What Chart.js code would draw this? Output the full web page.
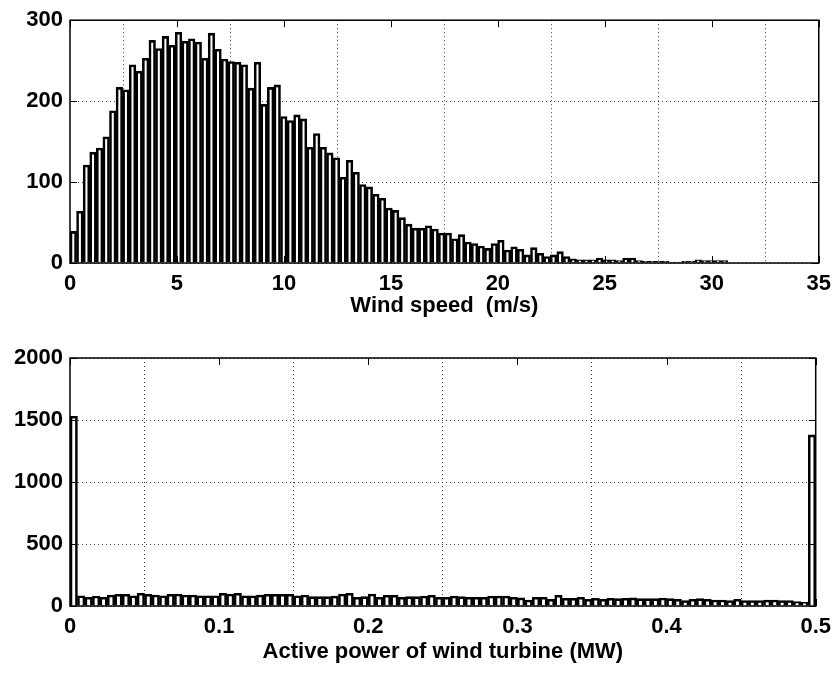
<!DOCTYPE html>
<html>
<head>
<meta charset="utf-8">
<script src="https://cdn.jsdelivr.net/npm/chart.js@4.4.0/dist/chart.umd.min.js"></script>
<style>
  html, body { margin: 0; padding: 0; background: #fff; }
  #wrap { position: relative; width: 839px; height: 675px; }
  .panel { position: absolute; left: 0; width: 839px; }
  #topPanel { top: 0; height: 330px; }
  #bottomPanel { top: 330px; height: 345px; }
</style>
</head>
<body>
<div id="wrap">
  <div class="panel" id="topPanel"><canvas id="windChart"></canvas></div>
  <div class="panel" id="bottomPanel"><canvas id="powerChart"></canvas></div>
</div>
<script>
// Wind speed histogram: 100 bins between 0 and 30.75 m/s
const windBinWidth = 0.3075;
const windCounts = [
    39, 64, 121, 137, 142, 156, 188, 217, 214, 245, 237, 253, 275, 265, 280, 269, 285, 274, 277, 273,
    253, 284, 264, 252, 249, 248, 245, 216, 248, 196, 217, 220, 181, 176, 183, 178, 143, 160, 143, 136,
    130, 106, 127, 112, 97, 94, 85, 80, 68, 65, 56, 48, 43, 43, 46, 42, 37, 37, 30, 35,
    26, 24, 21, 18, 24, 28, 16, 20, 17, 10, 19, 12, 8, 10, 14, 8, 5, 4, 4, 4,
    6, 4, 4, 3, 6, 6, 3, 2, 2, 2, 2, 1, 1, 2, 2, 4, 3, 3, 3, 3
];
const windTicks = [0, 5, 10, 15, 20, 25, 30, 35];
const windCountTicks = [0, 100, 200, 300];

// Active power histogram: 100 bins between 0 and 0.5 MW
const powerBinWidth = 0.005;
const powerCounts = [
    1530, 83, 70, 81, 70, 89, 94, 94, 83, 102, 94, 89, 83, 94, 97, 89, 89, 83, 83, 83,
    102, 97, 102, 83, 83, 89, 94, 94, 94, 94, 83, 89, 75, 75, 75, 81, 97, 102, 70, 75,
    97, 70, 86, 86, 70, 75, 75, 81, 86, 70, 70, 81, 75, 70, 70, 70, 81, 81, 81, 70,
    65, 48, 70, 70, 54, 86, 62, 62, 70, 54, 62, 54, 62, 59, 62, 65, 59, 59, 59, 64,
    59, 54, 43, 54, 59, 54, 48, 48, 43, 54, 43, 43, 43, 48, 48, 43, 43, 35, 30, 1380
];
const powerTicks = [0, 0.1, 0.2, 0.3, 0.4, 0.5];
const powerCountTicks = [0, 500, 1000, 1500, 2000];

const FONT = { family: '"Liberation Sans", Arial, Helvetica, sans-serif', size: 22, weight: 'bold' };

// box round the plot plus inward tick marks on all four sides
const boxPlugin = {
    id: 'boxPlugin',
    afterDatasetsDraw(chart) {
        const { ctx, chartArea: a, scales: { x, y } } = chart;
        ctx.save();
        ctx.strokeStyle = '#000';
        ctx.lineWidth = 1;
        ctx.beginPath();
        x.ticks.forEach(t => {
            const px = Math.round(x.getPixelForValue(t.value)) + 0.5;
            ctx.moveTo(px, a.bottom); ctx.lineTo(px, a.bottom - 7);
            ctx.moveTo(px, a.top); ctx.lineTo(px, a.top + 7);
        });
        y.ticks.forEach(t => {
            const py = Math.round(y.getPixelForValue(t.value)) + 0.5;
            ctx.moveTo(a.left, py); ctx.lineTo(a.left + 7, py);
            ctx.moveTo(a.right, py); ctx.lineTo(a.right - 7, py);
        });
        ctx.stroke();
        ctx.lineWidth = 1.5;
        ctx.strokeRect(a.left, a.top, a.right - a.left, a.bottom - a.top);
        ctx.restore();
    }
};

function histChart(id, counts, binWidth, xTicks, yTicks, xMax, yMax, title, padding, xFmt) {
    const points = counts.map((c, i) => ({ x: (i + 0.5) * binWidth, y: c }));
    return new Chart(document.getElementById(id).getContext('2d'), {
        type: 'bar',
        data: {
            datasets: [{
                data: points,
                backgroundColor: '#fff',
                borderColor: '#000',
                borderWidth: 2.6,
                barPercentage: 1,
                categoryPercentage: 1
            }]
        },
        options: {
            responsive: true,
            maintainAspectRatio: false,
            animation: false,
            layout: { padding: padding },
            plugins: { legend: { display: false }, tooltip: { enabled: false } },
            scales: {
                x: {
                    type: 'linear',
                    min: 0,
                    max: xMax,
                    offset: false,
                    afterBuildTicks: s => { s.ticks = xTicks.map(v => ({ value: v })); },
                    afterFit: s => { s.height = padding.axisH; },
                    grid: { drawTicks: false, color: 'rgba(0,0,0,0.75)', lineWidth: 1 },
                    border: { display: false, dash: [1, 3] },
                    ticks: { color: '#000', font: FONT, padding: 8, maxRotation: 0, callback: xFmt },
                    title: { display: true, text: title, color: '#000', font: FONT, padding: { top: 0, bottom: padding.titleB } }
                },
                y: {
                    min: 0,
                    max: yMax,
                    afterBuildTicks: s => { s.ticks = yTicks.map(v => ({ value: v })); },
                    afterFit: s => { s.width = 70; },
                    grid: { drawTicks: false, color: 'rgba(0,0,0,0.75)', lineWidth: 1 },
                    border: { display: false, dash: [1, 3] },
                    ticks: { color: '#000', font: FONT, padding: 7, callback: v => String(v) }
                }
            }
        },
        plugins: [boxPlugin]
    });
}

histChart('windChart', windCounts, windBinWidth, windTicks, windCountTicks, 35, 300,
    'Wind speed  (m/s)', { top: 14, left: 0, right: 17, bottom: 0, axisH: 67, titleB: 11 },
    v => String(v));

histChart('powerChart', powerCounts, powerBinWidth, powerTicks, powerCountTicks, 0.5, 2000,
    'Active power of wind turbine (MW)', { top: 28, left: 0, right: 17, bottom: 0, axisH: 69, titleB: 10 },
    v => (v === 0 ? '0' : Number(v).toFixed(1)));
</script>
</body>
</html>
